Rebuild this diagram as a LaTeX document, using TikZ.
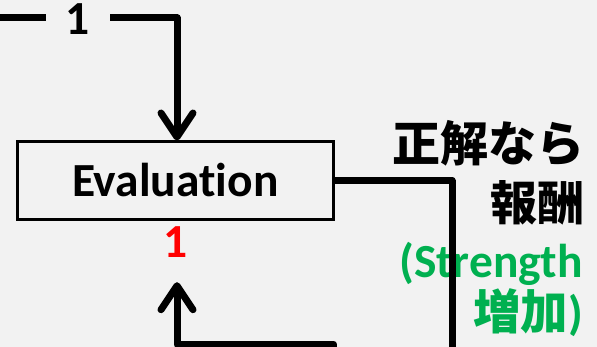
\documentclass[tikz,border=0pt]{standalone}
\usepackage{fontspec}
\setmainfont{Carlito}[Ligatures=NoCommon]
\newfontfamily\cjk{Noto Sans CJK JP}
\usetikzlibrary{arrows.meta}
\definecolor{bg}{HTML}{F2F2F2}
\definecolor{okgreen}{HTML}{00B050}
\begin{document}
\begin{tikzpicture}[x=1pt,y=-1pt,
  wire/.style={line width=7pt, line join=round},
  tipped/.style={-{Straight Barb[length=24pt,width=32pt,round]}},
  lbl/.style={font=\fontsize{47.5}{47.5}\selectfont\bfseries, inner sep=0pt},
  jp/.style={font=\fontsize{48}{48}\selectfont\cjk\bfseries, inner sep=0pt}]
\fill[bg] (0,0) rectangle (597,347);
\useasboundingbox (0,0) rectangle (597,347);

% evaluation box
\node[draw, line width=3pt, minimum width=315.5pt, minimum height=77.5pt,
      inner sep=0pt, text height=32.5pt, text depth=0pt, lbl]
      (eval) at (175.25,180.75) {Evaluation};

% labels
\node[lbl, anchor=base, minimum width=64pt] (n1) at (78,34.5) {1};
\node[lbl, text=red, anchor=base] (r1) at (176,258) {1};
\node[jp, anchor=base east] (t1) at (585,162) {正解なら};
\node[jp, anchor=base east, font=\fontsize{47}{47}\selectfont\cjk\bfseries] (t2) at (585,221) {報酬};
\node[lbl, text=okgreen, anchor=base east] (t3) at (583,278) {(Strength};
\node[lbl, text=okgreen, anchor=base east] (t4) at (583,330) {{\cjk 増加})};

% connectors
\coordinate (src) at (-10,18);
\coordinate (sink) at (452,360);
\coordinate (ret) at (333.5,360);
\draw[wire] (src) -- (src -| n1.west);
\draw[wire, tipped] (n1.east |- src) -| ([xshift=1.75pt]eval.north);
\draw[wire] (eval.east) -| (sink);
\draw[wire, tipped] (ret) -- ++(0,-16) -| ([shift={(1pt,-24pt)}]r1.south);
\end{tikzpicture}
\end{document}
